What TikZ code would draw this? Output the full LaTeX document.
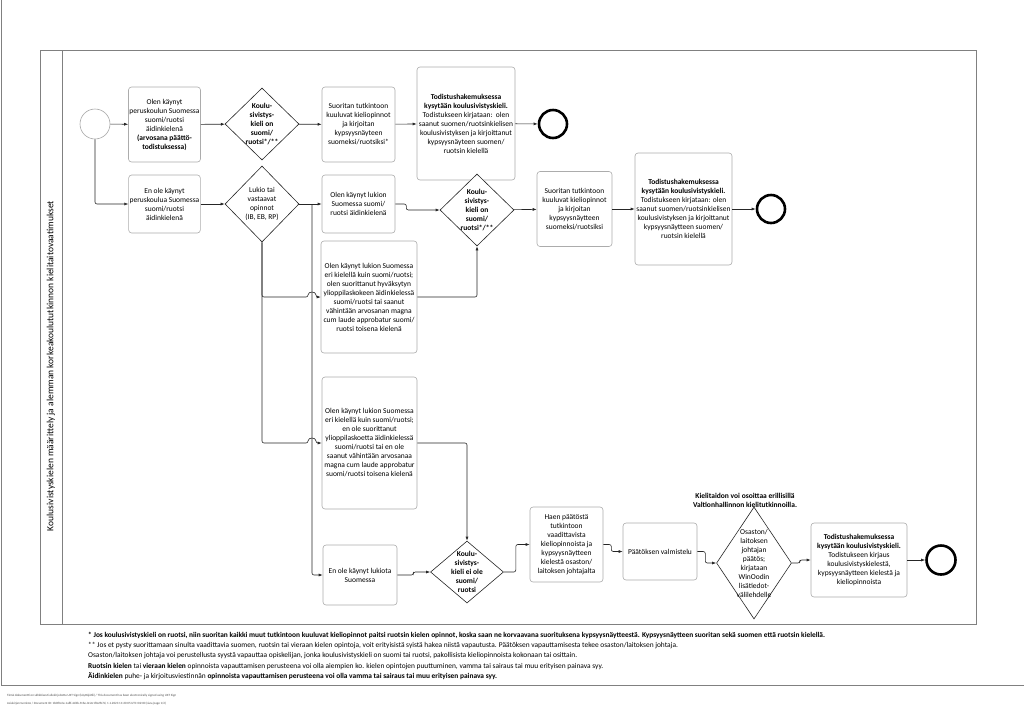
\documentclass[tikz,border=0pt]{standalone}
\usepackage{fontspec}
\setmainfont{Carlito}
\usetikzlibrary{shapes.geometric}
\usetikzlibrary{arrows.meta}
\newcommand{\boxfont}{\fontsize{7.5}{9}\selectfont}
\newcommand{\notefont}{\fontsize{7.4}{10.2}\selectfont}

\begin{document}
\begin{tikzpicture}[x=1pt, y=-1pt,
    task/.style={draw=gray!65, rounded corners=3pt, line width=0.6pt, fill=white, align=center, font=\boxfont, inner sep=1pt},
    gate/.style={draw=black!85, diamond, line width=0.6pt, inner sep=0pt, fill=white},
    gatetext/.style={align=center, font=\boxfont\bfseries, inner sep=0pt},
    startev/.style={draw=gray!70, circle, line width=0.6pt, minimum size=30pt, inner sep=0pt},
    endev/.style={draw=black, circle, line width=2.6pt, minimum size=28pt, inner sep=0pt},
    flow/.style={draw=black!85, line width=0.6pt, rounded corners=2pt, -{Latex[length=4pt,width=3pt]}},
    plain/.style={draw=black!85, line width=0.6pt}]
\useasboundingbox (0,0) rectangle (1024,713);

% page border and pool
\draw[gray, line width=0.6pt] (1.5,0) -- (1.5,685) -- (1024,685);
\draw[gray, line width=0.6pt] (40,50) rectangle (976,624);
\draw[gray, line width=0.6pt] (62,50) -- (62,624);
\node[rotate=90, font=\fontsize{9.5}{11}\selectfont] (lane) at (51,366) {Koulusivistyskielen määrittely ja alemman korkeakoulututkinnon kielitaitovaatimukset};

% first row
\node[startev] (start) at (95,124) {};
\node[task, minimum width=69pt, minimum height=75pt] (a1) at (164.5,124.5) {Olen käynyt\\peruskoulun Suomessa\\suomi/ruotsi\\äidinkielenä\\\textbf{(arvosana päättö-}\\\textbf{todistuksessa)}};
\node[gate, minimum width=74pt, minimum height=72pt] (d1) at (262,124) {};
\node[gatetext] (d1t) at (d1) {Koulu-\\sivistys-\\kieli on\\suomi/\\ruotsi*/**};
\node[task, minimum width=73pt, minimum height=75pt] (b1) at (358.5,124.5) {Suoritan tutkintoon\\kuuluvat kieliopinnot\\ja kirjoitan\\kypsyysnäyteen\\suomeksi/ruotsiksi*};
\node[task, minimum width=98pt, minimum height=113pt] (t1) at (466,123.5) {\textbf{Todistushakemuksessa}\\\textbf{kysytään koulusivistyskieli.}\\Todistukseen kirjataan:\ \ olen\\saanut suomen/ruotsinkielisen\\koulusivistyksen ja kirjoittanut\\kypsyysnäyteen suomen/\\ruotsin kielellä};
\node[endev] (e1) at (553,124) {};

% second row
\node[task, minimum width=69pt, minimum height=58pt] (a2) at (164.5,204) {En ole käynyt\\peruskoulua Suomessa\\suomi/ruotsi\\äidinkielenä};
\node[gate, minimum width=74pt, minimum height=76pt] (d2) at (262,204) {};
\node[gatetext, font=\boxfont] (d2t) at (d2) {Lukio tai\\vastaavat\\opinnot\\(IB, EB, RP)};
\node[task, minimum width=73pt, minimum height=58pt] (b2) at (358.5,204) {Olen käynyt lukion\\Suomessa suomi/\\ruotsi äidinkielenä};
\node[gate, minimum width=74pt, minimum height=72pt] (d3) at (477,210) {};
\node[gatetext] (d3t) at (d3) {Koulu-\\sivistys-\\kieli on\\suomi/\\ruotsi*/**};
\node[task, minimum width=75pt, minimum height=75pt] (b3) at (574.5,209) {Suoritan tutkintoon\\kuuluvat kieliopinnot\\ja kirjoitan\\kypsyysnäytteen\\suomeksi/ruotsiksi};
\node[task, minimum width=97pt, minimum height=112pt] (t2) at (683.5,209) {\textbf{Todistushakemuksessa}\\\textbf{kysytään koulusivistyskieli.}\\Todistukseen kirjataan: olen\\saanut suomen/ruotsinkielisen\\koulusivistyksen ja kirjoittanut\\kypsyysnäytteen suomen/\\ruotsin kielellä};
\node[endev] (e2) at (771,209) {};

% lukio boxes
\node[task, minimum width=96pt, minimum height=112pt] (boxc) at (369,297) {Olen käynyt lukion Suomessa\\eri kielellä kuin suomi/ruotsi;\\olen suorittanut hyväksytyn\\ylioppilaskokeen äidinkielessä\\suomi/ruotsi tai saanut\\vähintään arvosanan magna\\cum laude approbatur suomi/\\ruotsi toisena kielenä};
\node[task, minimum width=95pt, minimum height=132pt] (boxd) at (369.5,443) {Olen käynyt lukion Suomessa\\eri kielellä kuin suomi/ruotsi;\\en ole suorittanut\\ylioppilaskoetta äidinkielessä\\suomi/ruotsi tai en ole\\saanut vähintään arvosanaa\\magna cum laude approbatur\\suomi/ruotsi toisena kielenä};

% bottom row
\node[task, minimum width=74pt, minimum height=60pt] (boxe) at (360,575) {En ole käynyt lukiota\\Suomessa};
\node[gate, minimum width=73pt, minimum height=62pt] (d4) at (467,572) {};
\node[gatetext] (d4t) at (d4) {Koulu-\\sivistys-\\kieli ei ole\\suomi/\\ruotsi};
\node[task, minimum width=73pt, minimum height=75pt] (f) at (566.5,544.5) {Haen päätöstä\\tutkintoon\\vaadittavista\\kieliopinnoista ja\\kypsyysnäytteen\\kielestä osaston/\\laitoksen johtajalta};
\node[task, minimum width=74pt, minimum height=57pt] (g) at (660,551.5) {Päätöksen valmistelu};
\node[gate, minimum width=75pt, minimum height=112pt] (d5) at (754,563) {};
\node[gatetext, font=\boxfont] (d5t) at (d5) {Osaston/\\laitoksen\\johtajan\\päätös;\\kirjataan\\WinOodin\\lisätiedot-\\välilehdelle};
\node[font=\boxfont\bfseries, align=center, inner sep=0pt] (note) at (745,500) {Kielitaidon voi osoittaa erillisillä\\Valtionhallinnon kielitutkinnoilla.};
\node[task, minimum width=96pt, minimum height=74pt] (t3) at (859,560) {\textbf{Todistushakemuksessa}\\\textbf{kysytään koulusivistyskieli.}\\Todistukseen kirjaus\\koulusivistyskielestä,\\kypsyysnäytteen kielestä ja\\kieliopinnoista};
\node[endev, minimum size=29pt] (e3) at (941,560) {};

% connectors
\coordinate (jr) at (312,204);
\draw[flow] (start) -- (a1);
\draw[flow] (start.south) |- (a2.west);
\draw[flow] (a1) -- (d1);
\draw[flow] (d1) -- (b1);
\draw[flow] (b1) -- (t1);
\draw[flow] (t1) -- (e1);
\draw[flow] (a2) -- (d2);
\draw[flow] (d2.east) -- (b2.west);
\draw[flow] (jr) |- (boxe.west);
\draw[flow] (d2.south) |- (308,297) .. controls (308,291) and (316,291) .. (316,297) -- (boxc.west);
\draw[flow] (d2.south) |- (308,443) .. controls (308,437) and (316,437) .. (316,443) -- (boxd.west);
\draw[flow] (b2.east) -- ++(11,0) |- (d3.west);
\draw[flow] (boxc.east) -| (d3.south);
\draw[flow] (d3) -- (b3);
\draw[flow] (b3) -- (t2);
\draw[flow] (t2) -- (e2);
\draw[flow] (boxd.east) -| (d4.north);
\draw[flow] (boxe.east) -- ++(16,0) |- (d4.west);
\draw[flow] (d4.east) -- ++(12,0) |- (f.west);
\draw[flow] (f.east) -- ++(8,0) |- (g.west);
\draw[flow] (g.east) -- ++(8,0) |- (d5.west);
\draw[flow] (d5.east) -- ++(8,0) |- (t3.west);
\draw[flow] (t3) -- (e3);

% footnotes
\node[anchor=north west, align=left, font=\notefont, inner sep=0pt] (notes) at (88,632) {\textbf{* Jos koulusivistyskieli on ruotsi, niin suoritan kaikki muut tutkintoon kuuluvat kieliopinnot paitsi ruotsin kielen opinnot, koska saan ne korvaavana suorituksena kypsyysnäytteestä. Kypsyysnäytteen suoritan sekä suomen että ruotsin kielellä.}\\
** Jos et pysty suorittamaan sinulta vaadittavia suomen, ruotsin tai vieraan kielen opintoja, voit erityisistä syistä hakea niistä vapautusta. Päätöksen vapauttamisesta tekee osaston/laitoksen johtaja.\\
Osaston/laitoksen johtaja voi perustellusta syystä vapauttaa opiskelijan, jonka koulusivistyskieli on suomi tai ruotsi, pakollisista kieliopinnoista kokonaan tai osittain.\\
\textbf{Ruotsin kielen} tai \textbf{vieraan kielen} opinnoista vapauttamisen perusteena voi olla aiempien ko. kielen opintojen puuttuminen, vamma tai sairaus tai muu erityisen painava syy.\\
\textbf{Äidinkielen} puhe- ja kirjoitusviestinnän \textbf{opinnoista vapauttamisen perusteena voi olla vamma tai sairaus tai muu erityisen painava syy.}};
\node[anchor=north west, align=left, font=\fontsize{3.2}{8}\selectfont, text=black!70, inner sep=0pt] (sign) at (7,694) {Tämä dokumentti on sähköisesti allekirjoitettu UXT Sign (käyttäjätili) / This document has been electronically signed using UXT Sign\\Asiakirjan tunniste / Document ID: 1b0f0c2e-1a8f-4d3b-9c6e-0c2e1f0a9b7d, 1.1.2023 11:20:05 UTC+02:00 (sivu/page 1/2)};
\end{tikzpicture}
\end{document}
